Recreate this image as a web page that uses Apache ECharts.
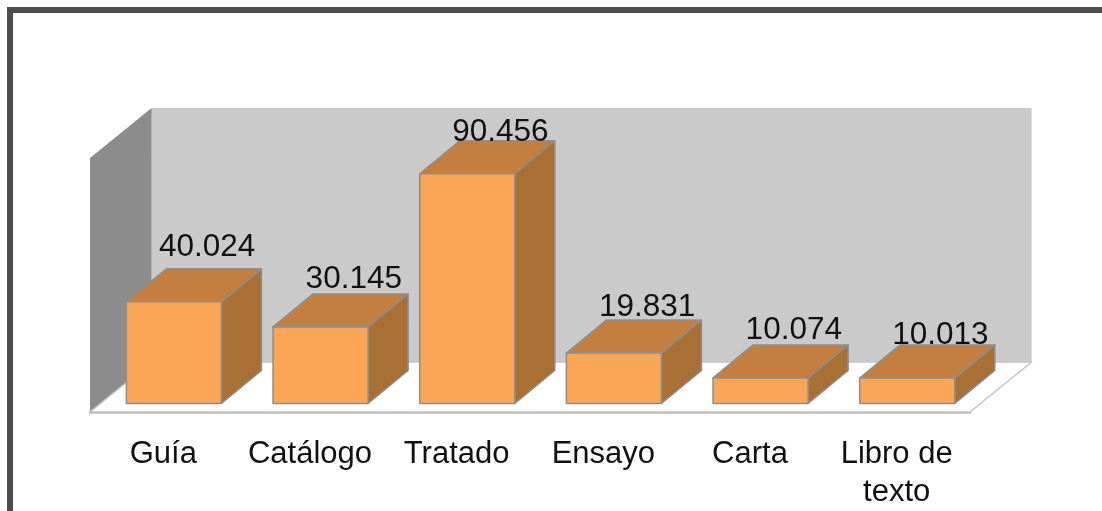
<!DOCTYPE html>
<html>
<head>
<meta charset="utf-8">
<style>html,body{margin:0;padding:0;background:#fff}#c{width:1102px;height:511px}</style>
<script src="https://cdn.jsdelivr.net/npm/echarts@6/dist/echarts.min.js"></script>
</head>
<body>
<div id="c"></div>
<script>
const categories = ['Guía', 'Catálogo', 'Tratado', 'Ensayo', 'Carta', 'Libro de\ntexto'];
const values = [40.024, 30.145, 90.456, 19.831, 10.074, 10.013];
const valueLabels = ['40.024', '30.145', '90.456', '19.831', '10.074', '10.013'];
const axisMax = 100;

// Layout tuning (fractions of one category slot, and label nudges in px)
const WALL_DX = 0.42, WALL_DY = 0.341;
const BAR_W = 0.648, BAR_DX = 0.273, BAR_DY = 0.225;
const labelNudge = [-22, -15, -8, -13, -15, -10];

function poly(points, fill, stroke, lineWidth) {
  return {type: 'polygon', shape: {points},
    style: {fill, stroke: stroke || 'none', lineWidth: lineWidth || 0, lineJoin: 'round'}};
}

function renderWalls(params, api) {
  const cs = params.coordSys;
  const slot = api.size([1, 0])[0];
  const dx = slot * WALL_DX, dy = slot * WALL_DY;
  const top = api.coord([0, api.value(1)])[1];
  const bottom = api.coord([0, 0])[1];
  const l = cs.x, r = cs.x + cs.width;
  return {type: 'group', silent: true, children: [
    poly([[l + dx, top - dy], [r + dx, top - dy], [r + dx, bottom - dy], [l + dx, bottom - dy]], '#cacaca'),
    poly([[l, top], [l + dx, top - dy], [l + dx, bottom - dy], [l, bottom]], '#8c8c8c'),
    poly([[l, bottom], [r, bottom], [r + dx, bottom - dy], [l + dx, bottom - dy]], '#ffffff', '#c4c4c4', 1.5)
  ]};
}

function renderBar(params, api) {
  const i = api.value(0);
  const slot = api.size([1, 0])[0];
  const c = api.coord([i, api.value(1)]);
  const b = api.coord([i, 0]);
  const offX = slot * 0.072, offY = slot * 0.058;
  const w = slot * BAR_W, dx = slot * BAR_DX, dy = slot * BAR_DY;
  const x0 = c[0] - w / 2 + offX, x1 = x0 + w;
  const yT = c[1] - offY, yB = b[1] - offY;
  const edge = '#8e8e8e';
  return {type: 'group', children: [
    poly([[x0, yT], [x0 + dx, yT - dy], [x1 + dx, yT - dy], [x1, yT]], '#c47f40', edge, 1.5),
    poly([[x1, yT], [x1 + dx, yT - dy], [x1 + dx, yB - dy], [x1, yB]], '#a87034', edge, 1.5),
    poly([[x0, yT], [x1, yT], [x1, yB], [x0, yB]], '#fba556', edge, 1.5),
    {type: 'text', z2: 100, style: {
      text: valueLabels[params.dataIndex],
      x: x0 + w / 2 + dx * 0.83, y: yT - dy + labelNudge[params.dataIndex],
      align: 'center', verticalAlign: 'middle',
      font: '31.5px "Liberation Sans", Arial, sans-serif', fill: '#111111'
    }}
  ]};
}

const chart = echarts.init(document.getElementById('c'), null, {renderer: 'canvas'});
chart.setOption({
  animation: false,
  backgroundColor: '#ffffff',
  grid: {left: 90, right: 132, top: 158, bottom: 99},
  xAxis: {
    type: 'category', data: categories,
    axisTick: {show: false},
    axisLine: {show: true, lineStyle: {color: '#b8b8b8', width: 2.5}},
    axisLabel: {
      interval: 0, margin: 23, hideOverlap: false,
      fontFamily: '"Liberation Sans", Arial, sans-serif', fontSize: 31,
      lineHeight: 38, color: '#111111'
    }
  },
  yAxis: {type: 'value', min: 0, max: axisMax, show: false, splitLine: {show: false}},
  graphic: [
    {type: 'rect', silent: true, shape: {x: 7, y: 7, width: 1095, height: 6}, style: {fill: '#4d4d4d'}},
    {type: 'rect', silent: true, shape: {x: 7, y: 7, width: 6, height: 504}, style: {fill: '#4d4d4d'}}
  ],
  series: [
    {type: 'custom', name: 'walls', coordinateSystem: 'cartesian2d', z: 1,
      renderItem: renderWalls, data: [[0, axisMax]], encode: {x: 0, y: 1}, clip: false},
    {type: 'custom', name: 'bars', coordinateSystem: 'cartesian2d', z: 3,
      renderItem: renderBar, data: values.map((v, i) => [i, v]), encode: {x: 0, y: 1}, clip: false}
  ]
});
</script>
</body>
</html>
